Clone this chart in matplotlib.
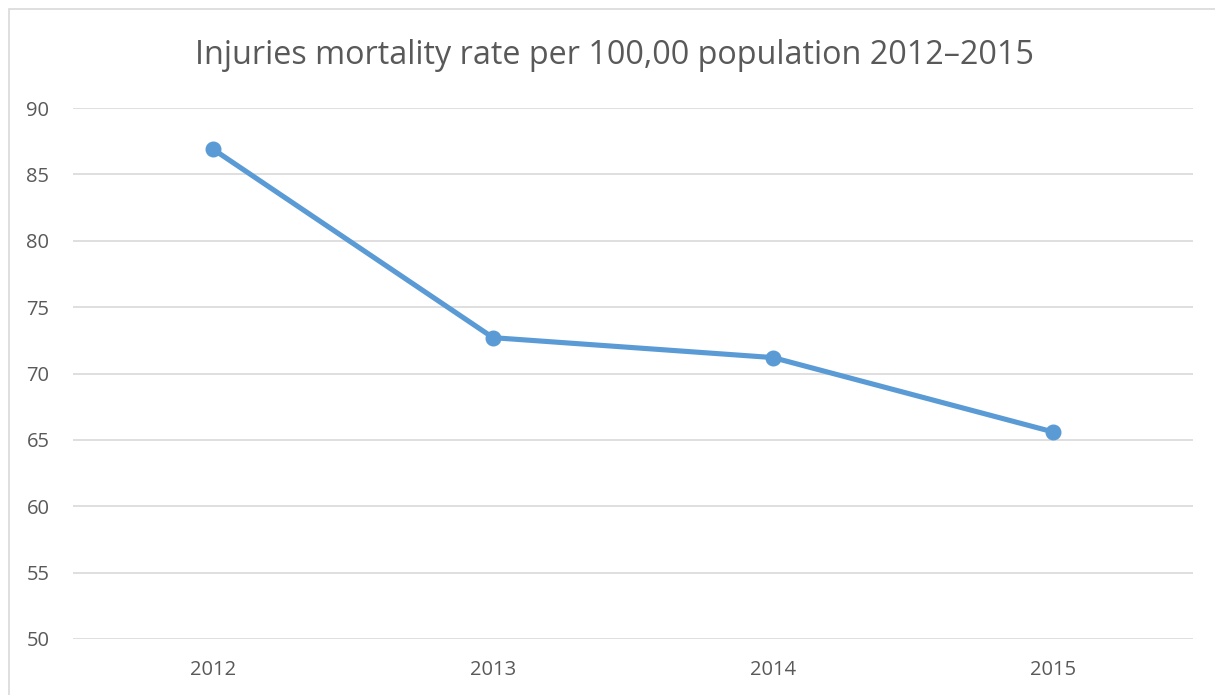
import matplotlib
matplotlib.use("Agg")
import matplotlib.pyplot as plt
from matplotlib.patches import Rectangle

years = ["2012", "2013", "2014", "2015"]
rates = [86.9, 72.7, 71.2, 65.6]
y_ticks = [50, 55, 60, 65, 70, 75, 80, 85, 90]
title = "Injuries mortality rate per 100,00 population 2012\u20132015"

W, H, DPI = 1215, 695, 100
plt.rcParams["font.family"] = ["Open Sans", "DejaVu Sans"]

fig = plt.figure(figsize=(W / DPI, H / DPI), dpi=DPI)
fig.patch.set_facecolor("white")

# Chart-area border (open to the right and bottom edges)
fig.add_artist(Rectangle((9 / W, -0.05), 1.2, (H - 9) / H + 0.05,
                         transform=fig.transFigure, fill=False,
                         edgecolor="#D9D9D9", linewidth=1.2))

left, right = 73 / W, 1193 / W
bottom, top = 1 - 639 / H, 1 - 108 / H
ax = fig.add_axes([left, bottom, right - left, top - bottom])

x = list(range(len(years)))
ax.plot(x, rates, color="#5B9BD5", linewidth=3.7, marker="o",
        markersize=10.5, solid_capstyle="round", zorder=3)

ax.set_xlim(-0.5, len(years) - 0.5)
ax.set_ylim(50, 90)
ax.set_yticks(y_ticks)
ax.set_xticks(x)
ax.set_xticklabels(years)
ax.grid(axis="y", color="#D9D9D9", linewidth=1.2)
ax.set_axisbelow(True)
for s in ax.spines.values():
    s.set_visible(False)
ax.tick_params(axis="both", length=0, labelsize=14.5, colors="#595959")
ax.tick_params(axis="y", pad=17)
ax.tick_params(axis="x", pad=15)

fig.text(0.506, 1 - 56 / H, title, ha="center", va="center",
         fontsize=23.3, color="#595959")

fig.savefig("out.png", dpi=DPI)
